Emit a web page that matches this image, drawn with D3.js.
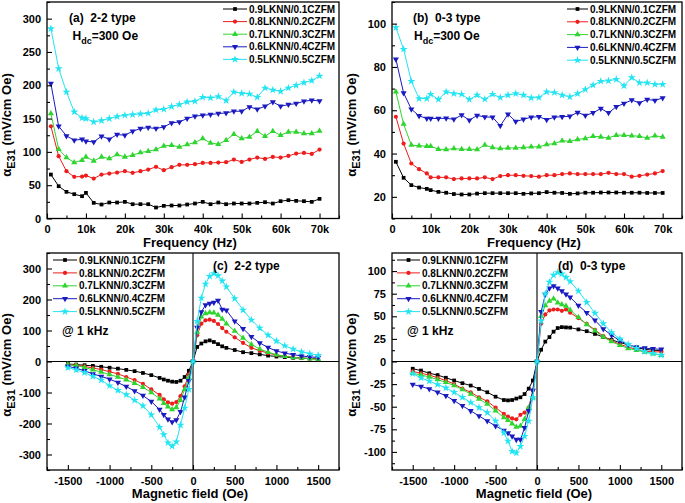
<!DOCTYPE html>
<html><head><meta charset="utf-8">
<script src="https://cdn.jsdelivr.net/npm/d3@7"></script>
<style>
body{margin:0;background:#fff;}
svg{display:block;font-family:"Liberation Sans",Arial,sans-serif;font-weight:bold;}
</style></head><body>
<svg id="chart" width="685" height="503"></svg>
<script>
// ---------- data ----------
const seriesNames = ["0.9LKNN/0.1CZFM","0.8LKNN/0.2CZFM","0.7LKNN/0.3CZFM","0.6LKNN/0.4CZFM","0.5LKNN/0.5CZFM"];
const seriesColors = ["#000000","#ee1c1c","#2fd52f","#1a1ac0","#22e4f2"];

const freqKHz = [1,3,5,7,9,10,12,14,16,18,20,22,24,26,28,30,32,34,36,38,40,42,44,46,48,50,52,54,56,58,60,62,64,66,68,70];
const freqTicks = [0,10,20,30,40,50,60,70];
const freqTickLabels = ["0","10k","20k","30k","40k","50k","60k","70k"];

const a_black = [66,48.5,40,36.5,33.5,38.5,23.5,21,24,24,25,21.5,21.5,21.5,16.5,19,19.5,19.5,21,22.5,25,21.5,24,21.5,22.5,22.5,22.5,23.5,24.5,22.5,26,27.5,26.5,26,25,29.5];
const a_red   = [138.5,93.5,71,62.5,63,64.5,60,66,67.5,69,71,68.5,71,73.5,77.5,72.5,77,80.5,80.5,81.5,83.5,83.5,84,84.5,88.5,85,88.5,91.5,89.5,92.5,91.5,94,97.5,98.5,97,103.5];
const a_green = [157.5,104,91.5,84,87.5,92.5,86.5,92.5,90,96,92.5,95,99,101,103.5,109,110,107.5,111,114,120,113.5,111.5,117.5,126.5,120,122.5,131,123.5,131,125,130,130,127.5,127.5,131.5];
const a_blue  = [202.5,138.5,124,117.5,119,116,115,123.5,119,126,125,131,135,136.5,135,137.5,143.5,145,150,153.5,155,156,157.5,158.5,161,161,167.5,164,168.5,175,168.5,171,172.5,176,177.5,176.5];
const a_cyan  = [285,225,190,160,151,150,145,147,150,153,155,156,157,158,163,164,168,171,175,176,182,181,183,177,190,188,187,182,196,193,191,196,200,204,207,214];

const b_black = [36.2,28.8,25.4,24.3,23.7,23.1,22.3,21.9,21.3,21.1,21.1,21.5,21.7,21.7,21.7,21.7,21.7,21.4,21.6,21.7,22.2,21.9,21.8,21.4,21.6,21.9,21.9,22.0,22.0,22.0,21.9,21.9,21.9,21.8,21.8,21.8];
const b_red   = [57,44.6,35.4,32.8,30.8,29,29,29,28.2,28.5,28.5,28.5,29,28.2,29.6,30,30,29.7,29.6,29.3,30,30,30.5,30.8,30.5,30.5,30.5,30.5,31.1,30.5,30.5,29.3,29.7,30.3,30.8,31.9];
const b_green = [68.5,53.6,43.9,43.6,43.4,43.4,42,41.9,42.3,42,42,41.9,43.9,42.8,42.3,42.6,42.6,42.8,43.1,43.1,44.2,44.6,45.9,45.7,46.5,47,48,47.7,47.2,48.5,48.5,48.2,48,47.2,48.2,47.7];
const b_blue  = [83.6,68,60.5,57.4,56.2,56.2,56.2,56.3,55.8,57.8,55.4,57.6,56.9,56.8,52.8,58.2,54.8,55.8,56.8,57,55.6,56.8,57,57.2,59,57.6,58.8,60.8,58.8,61.6,63.1,64.7,63.4,65,64.5,65.7];
const b_cyan  = [98.2,88.2,73.4,65.4,65.4,67.4,65,68.5,67.7,67.4,65,67,65.1,67.4,65.9,67,67.7,67,65.7,65.9,68.5,68.2,67,66.2,67.7,69.6,71.6,73.4,73.6,74.3,71.3,75.1,72.7,72.7,72,72];

const fieldOe = [-1500,-1400,-1300,-1200,-1100,-1000,-900,-800,-700,-600,-500,-400,-350,-300,-250,-200,-150,-100,-50,0,50,100,150,200,250,300,350,400,500,600,700,800,900,1000,1100,1200,1300,1400,1500];
const fieldTicks = [-1500,-1000,-500,0,500,1000,1500];
const fieldTickLabels = ["-1500","-1000","-500","0","500","1000","1500"];

const c_black = [-8,-10,-12,-14,-17,-20,-23,-27,-31,-37,-44,-53,-58,-62,-65,-66,-62,-50,-30,0,47,58,65,68,63,56,49,44,37,30,27,23,19,16,14,12,11,10,10];
const c_red   = [-10,-12,-16,-21,-26,-33,-40,-50,-60,-72,-90,-108,-122,-132,-136,-131,-112,-80,-42,0,85,122,133,135,131,121,108,96,78,60,44,35,27,21,17,14,11,9,7];
const c_green = [-10,-13,-19,-27,-34,-42,-50,-59,-70,-83,-100,-120,-135,-146,-155,-148,-125,-90,-52,0,95,144,155,158,157,150,137,122,98,76,55,40,30,22,17,13,11,9,7];
const c_blue  = [-15,-22,-30,-40,-48,-57,-68,-81,-95,-110,-129,-155,-172,-186,-195,-189,-162,-115,-62,0,110,160,182,187,190,197,168,165,130,106,80,60,45,34,27,22,18,15,13];
const c_cyan  = [-20,-27,-36,-48,-60,-78,-93,-107,-125,-143,-172,-212,-236,-262,-273,-259,-205,-150,-90,0,130,205,250,275,284,277,260,241,203,166,134,108,85,66,51,40,31,25,20];

const d_black = [-8,-10,-13,-15,-18,-21,-24,-26.6,-30.3,-34,-38.9,-42.6,-43,-42.6,-41,-39.6,-36,-30,-21,0,13,22,27,33,37,38,37.7,37.5,35.5,33.5,30.5,27,24,21,18.5,15.5,13.5,12.5,12];
const d_red   = [-11,-13,-15,-18,-21,-25,-30,-34,-39.6,-44,-51,-58,-61,-63,-64,-59,-56.5,-51,-32,0,42,52,56.5,57.5,57.5,56,57.5,54,48,41.5,35,28,23,19,16,13.5,11.5,10.5,10.8];
const d_green = [-13,-15,-17,-20,-23,-26.6,-31,-36,-41.5,-47,-54.6,-62,-65,-68.8,-72.5,-71.4,-64,-51,-40,0,50,62,67,69.5,65,63,61.3,57,49,41,34,27,22,18,14.5,12.5,10.5,8.5,7];
const d_blue  = [-25.4,-27.7,-30.3,-34,-37.8,-43.4,-49,-54.6,-60.2,-65.8,-71.4,-76.3,-79,-82.6,-86.4,-86.4,-73.3,-54.6,-32,0,55,74,81,83.5,81,78,74.5,71,62,54,45.5,36,29,23,18.5,15.8,14.8,14,13.5];
const d_cyan  = [-13.5,-18,-21.7,-25.4,-29.2,-34,-39.6,-45.3,-50.9,-56.5,-65.8,-78.9,-88,-99.4,-101,-93.8,-82.6,-65.8,-40,0,45,75,88,95.5,98.5,97,93,88.5,78,65.5,53.5,42,32,25,19,14.5,11,9,7];

// ---------- drawing ----------
const svg = d3.select("#chart");
svg.append("rect").attr("width",685).attr("height",503).attr("fill","#fff");
const FONT = '"Liberation Sans", Arial, sans-serif';
const symTypes = [d3.symbolSquare, d3.symbolCircle, d3.symbolTriangle, d3.symbolTriangle, d3.symbolStar];
const symSizes = [14, 14, 16, 16, 20];
const symRot = [0,0,0,180,0];

function marker(g, i, px, py){
  g.append("path")
    .attr("transform", `translate(${px},${py}) rotate(${symRot[i]})`)
    .attr("d", d3.symbol(symTypes[i], symSizes[i])())
    .attr("fill", seriesColors[i]);
}

function drawPanel(cfg){
  const g = svg.append("g");
  const x = d3.scaleLinear().domain(cfg.xDomain).range([cfg.left, cfg.right]);
  const y = d3.scaleLinear().domain(cfg.yDomain).range([cfg.bottom, cfg.top]);

  if (cfg.zeroLines){
    g.append("line").attr("x1",cfg.left).attr("x2",cfg.right).attr("y1",y(0)).attr("y2",y(0)).attr("stroke","#000").attr("stroke-width",1.1);
    g.append("line").attr("x1",x(0)).attr("x2",x(0)).attr("y1",cfg.top).attr("y2",cfg.bottom).attr("stroke","#000").attr("stroke-width",1.1);
  }

  const line = d3.line().x(d=>x(d[0])).y(d=>y(d[1]));
  cfg.series.forEach((vals,i)=>{
    const pts = cfg.xs.map((xv,j)=>[xv, vals[j]]);
    g.append("path").attr("d", line(pts)).attr("fill","none")
      .attr("stroke", seriesColors[i]).attr("stroke-width",1);
    pts.forEach(p=>marker(g,i,x(p[0]),y(p[1])));
  });

  // axes
  const xa = g.append("g").attr("transform",`translate(0,${cfg.bottom})`)
    .call(d3.axisBottom(x).tickValues(cfg.xTicks).tickFormat((d,i)=>cfg.xTickLabels[i])
      .tickSizeInner(-5).tickSizeOuter(0).tickPadding(7));
  const xm = g.append("g").attr("transform",`translate(0,${cfg.bottom})`)
    .call(d3.axisBottom(x).tickValues(cfg.xMinor).tickFormat("").tickSizeInner(-3).tickSizeOuter(0));
  const ya = g.append("g").attr("transform",`translate(${cfg.left},0)`)
    .call(d3.axisLeft(y).tickValues(cfg.yTicks).tickFormat((d,i)=>cfg.yTickLabels[i])
      .tickSizeInner(-5).tickSizeOuter(0).tickPadding(6));
  const ym = g.append("g").attr("transform",`translate(${cfg.left},0)`)
    .call(d3.axisLeft(y).tickValues(cfg.yMinor).tickFormat("").tickSizeInner(-3).tickSizeOuter(0));
  [xa,xm,ya,ym].forEach(a=>{
    a.attr("font-family",FONT).attr("font-size",11).attr("font-weight","bold");
    a.select(".domain").remove();
    a.selectAll("line").attr("stroke","#000").attr("stroke-width",1.1);
    a.selectAll("text").attr("fill","#000");
  });

  // frame
  g.append("rect").attr("x",cfg.left).attr("y",cfg.top)
    .attr("width",cfg.right-cfg.left).attr("height",cfg.bottom-cfg.top)
    .attr("fill","none").attr("stroke","#000").attr("stroke-width",1.3);

  // axis titles
  g.append("text").attr("x",(cfg.left+cfg.right)/2 - 3).attr("y",cfg.bottom+28)
    .attr("text-anchor","middle").attr("font-size",13).text(cfg.xTitle);
  const yt = g.append("text").attr("text-anchor","middle").attr("font-size",13)
    .attr("transform",`translate(${cfg.left-36},${cfg.yTitleY}) rotate(-90)`);
  yt.append("tspan").text("α");
  yt.append("tspan").attr("font-size",11).attr("dy",4).text("E31");
  yt.append("tspan").attr("dy",-4).text(" (mV/cm Oe)");

  // legend
  cfg.series.forEach((vals,i)=>{
    const ly = cfg.legY + i*cfg.legDy;
    g.append("line").attr("x1",cfg.legX1).attr("x2",cfg.legX2).attr("y1",ly).attr("y2",ly)
      .attr("stroke",seriesColors[i]).attr("stroke-width",1);
    marker(g,i,(cfg.legX1+cfg.legX2)/2,ly);
    g.append("text").attr("x",cfg.legX2+2).attr("y",ly+3.6).attr("font-size",10).text(seriesNames[i]);
  });

  // annotations
  cfg.notes.forEach(n=>{
    const t = g.append("text").attr("x",n.x).attr("y",n.y).attr("font-size",12).attr("xml:space","preserve");
    if (n.sub){
      t.append("tspan").text(n.text[0]);
      t.append("tspan").attr("font-size",9).attr("dy",4).text(n.text[1]);
      t.append("tspan").attr("dy",-4).text(n.text[2]);
    } else t.text(n.text);
  });
}

const range = (a,b,s)=>{const r=[];for(let v=a;v<=b+1e-9;v+=s) r.push(+v.toFixed(3));return r;};

drawPanel({
  left:47,right:339,top:2,bottom:218.5,
  xDomain:[0,75],yDomain:[0,325],
  xs:freqKHz, series:[a_black,a_red,a_green,a_blue,a_cyan],
  xTicks:freqTicks,xTickLabels:freqTickLabels,xMinor:range(5,75,10),
  yTicks:[0,50,100,150,200,250,300],yTickLabels:["0","50","100","150","200","250","300"],yMinor:range(25,325,50),
  xTitle:"Frequency (Hz)", yTitleY:125,
  legX1:223,legX2:247,legY:9,legDy:12.6,
  notes:[{x:69,y:21.5,text:"(a)  2-2 type"},{x:72.5,y:39.5,sub:true,text:["H","dc","=300 Oe"]}]
});
drawPanel({
  left:392,right:682,top:2,bottom:218.5,
  xDomain:[0,75],yDomain:[10,110],
  xs:freqKHz, series:[b_black,b_red,b_green,b_blue,b_cyan],
  xTicks:freqTicks,xTickLabels:freqTickLabels,xMinor:range(5,75,10),
  yTicks:[20,40,60,80,100],yTickLabels:["20","40","60","80","100"],yMinor:range(10,110,20),
  xTitle:"Frequency (Hz)", yTitleY:125,
  legX1:567,legX2:588,legY:9,legDy:12.8,
  notes:[{x:413,y:21.5,text:"(b)  0-3 type"},{x:414,y:40,sub:true,text:["H","dc","=300 Oe"]}]
});
drawPanel({
  left:47,right:339,top:253,bottom:470,zeroLines:true,
  xDomain:[-1750,1750],yDomain:[-350,350],
  xs:fieldOe, series:[c_black,c_red,c_green,c_blue,c_cyan],
  xTicks:fieldTicks,xTickLabels:fieldTickLabels,xMinor:range(-1750,1750,500),
  yTicks:[-300,-200,-100,0,100,200,300],yTickLabels:["-300","-200","-100","0","100","200","300"],yMinor:range(-350,350,100),
  xTitle:"Magnetic field (Oe)", yTitleY:365,
  legX1:53,legX2:77,legY:260,legDy:12.9,
  notes:[{x:213,y:269.5,text:"(c)  2-2 type"},{x:62,y:335,text:"@ 1 kHz"}]
});
drawPanel({
  left:392,right:682,top:253,bottom:470,zeroLines:true,
  xDomain:[-1750,1750],yDomain:[-120,120],
  xs:fieldOe, series:[d_black,d_red,d_green,d_blue,d_cyan],
  xTicks:fieldTicks,xTickLabels:fieldTickLabels,xMinor:range(-1750,1750,500),
  yTicks:[-100,-75,-50,-25,0,25,50,75,100],yTickLabels:["-100","-75","-50","-25","0","25","50","75","100"],yMinor:range(-112.5,112.5,25),
  xTitle:"Magnetic field (Oe)", yTitleY:365,
  legX1:397,legX2:420,legY:260,legDy:12.9,
  notes:[{x:558,y:269.5,text:"(d)  0-3 type"},{x:407,y:335,text:"@ 1 kHz"}]
});
</script>
</body></html>
